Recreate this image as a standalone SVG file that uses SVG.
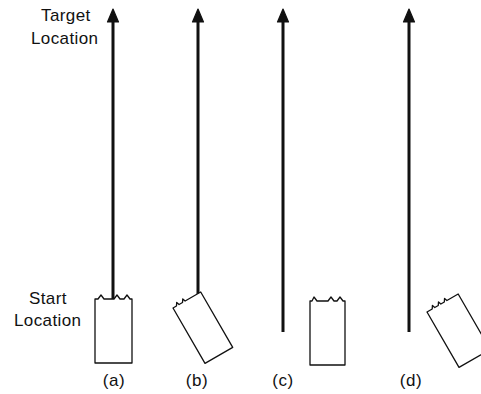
<svg xmlns="http://www.w3.org/2000/svg" width="481" height="394" viewBox="0 0 481 394">
<style>
.lbl{font-family:"Liberation Sans",Arial,sans-serif;font-size:17px;fill:#111;letter-spacing:0.4px}
.cap{font-family:"Liberation Sans",Arial,sans-serif;font-size:17px;fill:#111;text-anchor:middle;letter-spacing:0.6px}
.path{stroke:#111;stroke-width:3;fill:none}
.robot{stroke:#111;stroke-width:1.3;fill:#fff;stroke-linejoin:round}
</style>
<defs>
<marker id="ah" markerUnits="userSpaceOnUse" markerWidth="16" markerHeight="14" viewBox="-1 -7 16 14" refX="0" refY="0" orient="auto">
<path d="M0,-5.5 L13,0 L0,5.5 Z" fill="#111" stroke="#111" stroke-width="1.2" stroke-linejoin="round"/>
</marker>
</defs>
<text class="lbl" x="41" y="21">Target</text>
<text class="lbl" x="31" y="44">Location</text>
<text class="lbl" x="29" y="304">Start</text>
<text class="lbl" x="14" y="326">Location</text>
<g id="connectors">
<line class="path" x1="113" y1="300" x2="113" y2="22" marker-end="url(#ah)"/>
<line class="path" x1="198" y1="294" x2="198" y2="22" marker-end="url(#ah)"/>
<line class="path" x1="283" y1="332" x2="283" y2="22" marker-end="url(#ah)"/>
<line class="path" x1="409" y1="332" x2="409" y2="22" marker-end="url(#ah)"/>
</g>
<g id="robot-a">
<path class="robot" d="M95,299 L98,299 L101,295 L104,299 L114,299 L117,295 L120,299 L124,299 L127,295 L130,299 L132,299 L132,363 L95,363 Z"/>
<line x1="113" y1="299" x2="113" y2="290" stroke="#111" stroke-width="2"/>
</g>
<g id="robot-b" transform="translate(173,308) rotate(-30)">
<path class="robot" d="M0,0 L4,0 L6,-3 L7,0 L11,0 L13,-3 L14,0 L32,0 L32,64 L0,64 Z"/>
</g>
<g id="robot-c">
<path class="robot" d="M310,301 L312,301 L314,297 L317,301 L328,301 L331,297 L334,301 L337,301 L340,297 L343,301 L345,301 L345,365 L310,365 Z"/>
</g>
<g id="robot-d" transform="translate(427,312) rotate(-30)">
<path class="robot" d="M0,0 L6,0 L8,-3 L9,0 L13,0 L15,-3 L16,0 L20,0 L22,-3 L23,0 L36,0 L36,64 L0,64 Z"/>
</g>
<text class="cap" x="114" y="386">(a)</text>
<text class="cap" x="197" y="386">(b)</text>
<text class="cap" x="283" y="386">(c)</text>
<text class="cap" x="411" y="386">(d)</text>
</svg>
